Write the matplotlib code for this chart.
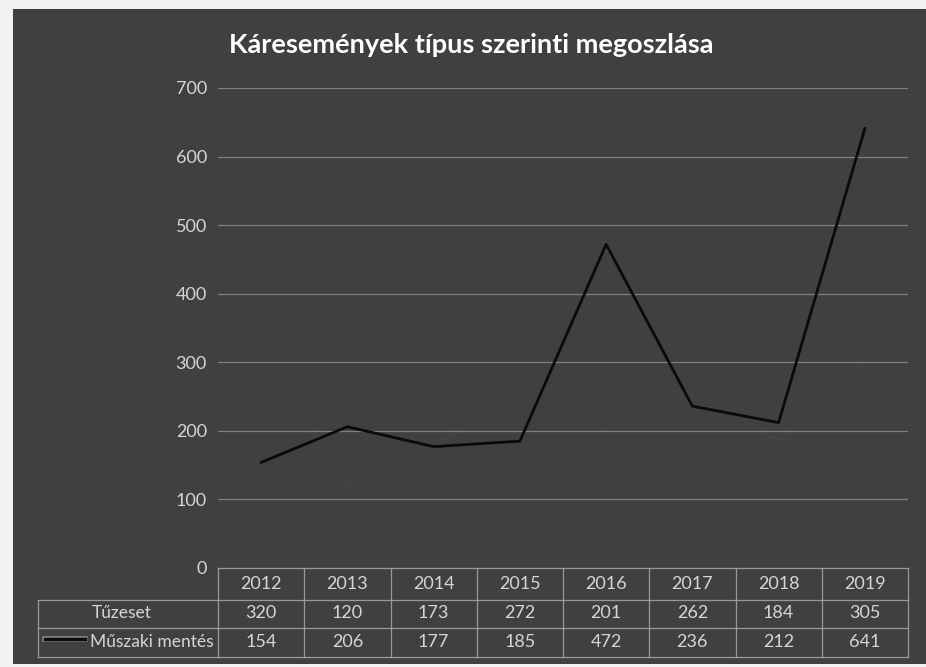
import matplotlib
matplotlib.use("Agg")
import matplotlib.pyplot as plt
from matplotlib.transforms import blended_transform_factory
from matplotlib.lines import Line2D
from matplotlib.patches import Rectangle
import matplotlib.patheffects as pe

years = ['2012', '2013', '2014', '2015', '2016', '2017', '2018', '2019']
series_names = ['Tűzeset', 'Műszaki mentés']
tuzeset = [320, 120, 173, 272, 201, 262, 184, 305]
muszaki = [154, 206, 177, 185, 472, 236, 212, 641]
yticks = [0, 100, 200, 300, 400, 500, 600, 700]
title = 'Káresemények típus szerinti megoszlása'

W, H = 926, 667
BG = '#404040'
TUZ = '#434343'
TXT = '#d6d6d6'
GRID = '#9c9c9c'
BORDER = '#a8a8a8'
FONT = 'Lato'

fig = plt.figure(figsize=(W / 100, H / 100), dpi=100, facecolor='#f2f2f2')

def fx(px):
    return px / W

def fy(py):
    return 1 - py / H

# dark chart background
fig.patches.append(Rectangle((fx(13), fy(664)), fx(926) - fx(13), fy(9) - fy(664),
                             transform=fig.transFigure, facecolor=BG, edgecolor='none', zorder=-5))

ax = fig.add_axes([fx(218), fy(568), fx(908) - fx(218), fy(88) - fy(568)])
ax.set_facecolor('none')
ax.set_zorder(2)
x = list(range(len(years)))
ax.set_xlim(-0.5, len(years) - 0.5)
ax.set_ylim(0, 700)
ax.set_yticks(yticks)
ax.set_yticklabels([str(v) for v in yticks], color=TXT, fontsize=13, family=FONT)
ax.tick_params(axis='y', length=0, pad=8)
ax.set_xticks([])
for s in ax.spines.values():
    s.set_visible(False)
for v in yticks[1:]:
    ax.axhline(v, color=GRID, lw=0.9, alpha=0.7, zorder=1)

ax.plot(x, tuzeset, color=TUZ, lw=2.0, zorder=0.5)
ax.plot(x, muszaki, color='#0a0a0a', lw=2.0, zorder=3)

fig.text(fx(471), fy(45), title, ha='center', va='center', color='white',
         fontsize=19.5, fontweight='bold', family=FONT)

# data table
tr = blended_transform_factory(ax.transData, fig.transFigure)
y_top, y_h1, y_h2, y_bot = 568, 599.5, 628, 657
legend_left = -0.5 - (218 - 38) / (690 / 8)

def hline(x0, x1, py):
    fig.add_artist(Line2D([x0, x1], [fy(py), fy(py)], transform=tr, color=BORDER, lw=0.9, alpha=0.85))

def vline(xd, py0, py1):
    fig.add_artist(Line2D([xd, xd], [fy(py0), fy(py1)], transform=tr, color=BORDER, lw=0.9, alpha=0.85))

hline(-0.5, len(years) - 0.5, y_top)
hline(legend_left, len(years) - 0.5, y_h1)
hline(legend_left, len(years) - 0.5, y_h2)
hline(legend_left, len(years) - 0.5, y_bot)
for i in range(len(years) + 1):
    vline(i - 0.5, y_top, y_bot)
vline(legend_left, y_h1, y_bot)

for i, yr in enumerate(years):
    fig.text(i, fy(584), yr, transform=tr, ha='center', va='center', color=TXT, fontsize=13, family=FONT)
    fig.text(i, fy(613), str(tuzeset[i]), transform=tr, ha='center', va='center', color=TXT, fontsize=13, family=FONT)
    fig.text(i, fy(642), str(muszaki[i]), transform=tr, ha='center', va='center', color=TXT, fontsize=13, family=FONT)

fig.text(fx(92), fy(613), series_names[0], ha='left', va='center', color=TXT, fontsize=12.5, family=FONT)
fig.text(fx(90), fy(642), series_names[1], ha='left', va='center', color=TXT, fontsize=12.5, family=FONT)

# legend keys
fig.add_artist(Line2D([fx(45), fx(85)], [fy(613), fy(613)], transform=fig.transFigure, color=TUZ, lw=2.0))
fig.add_artist(Line2D([fx(45), fx(85)], [fy(639), fy(639)], transform=fig.transFigure, color='#0a0a0a', lw=2.5,
                      path_effects=[pe.Stroke(linewidth=4, foreground='#8a8a8a'), pe.Normal()]))

fig.savefig('out.png', dpi=100, facecolor=fig.get_facecolor())
